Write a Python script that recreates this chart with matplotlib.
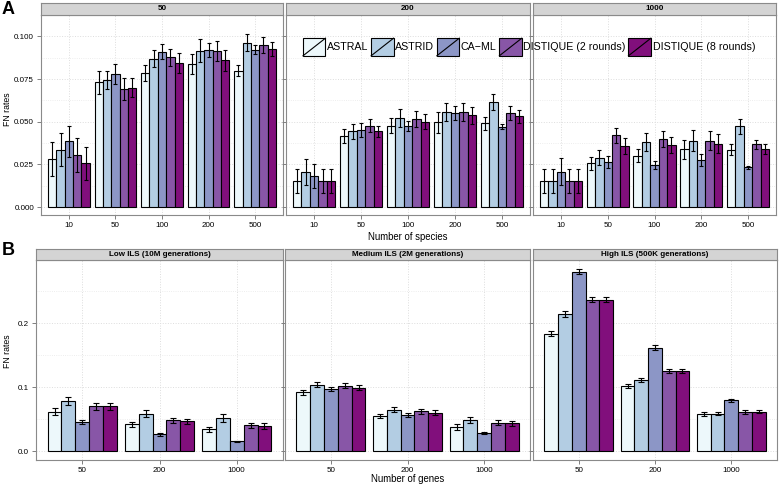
import matplotlib
matplotlib.use("Agg")
import matplotlib.pyplot as plt
import numpy as np
from matplotlib.patches import Rectangle, Patch
from matplotlib.lines import Line2D
from matplotlib.legend_handler import HandlerBase

plt.rcParams['font.family'] = ['Liberation Sans', 'DejaVu Sans']

methods = ["ASTRAL", "ASTRID", "CA\u2212ML", "DISTIQUE (2 rounds)", "DISTIQUE (8 rounds)"]
colors = ["#EDF8FB", "#B3CDE3", "#8C96C6", "#8856A7", "#810F7C"]

# Panel A: facets = number of genes, groups = number of species
a_facets = ["50", "200", "1000"]
species = ["10", "50", "100", "200", "500"]
a50_mean = [[0.028, 0.0337, 0.0385, 0.0306, 0.0256],
            [0.073, 0.0746, 0.078, 0.0693, 0.070],
            [0.0787, 0.0869, 0.0911, 0.0878, 0.0843],
            [0.0839, 0.0915, 0.0922, 0.0913, 0.0859],
            [0.080, 0.0963, 0.0922, 0.095, 0.0926]]
a50_err = [[0.010, 0.0096, 0.009, 0.0098, 0.0096],
           [0.0069, 0.0053, 0.006, 0.0063, 0.0055],
           [0.0048, 0.005, 0.0042, 0.005, 0.006],
           [0.006, 0.0067, 0.004, 0.006, 0.006],
           [0.003, 0.005, 0.0025, 0.0045, 0.004]]
a200_mean = [[0.0152, 0.0206, 0.018, 0.0152, 0.0152],
             [0.0417, 0.0444, 0.045, 0.0478, 0.0443],
             [0.0478, 0.0522, 0.0474, 0.0517, 0.050],
             [0.0496, 0.0557, 0.055, 0.0557, 0.0537],
             [0.049, 0.0613, 0.0472, 0.055, 0.0531]]
a200_err = [[0.007, 0.0075, 0.007, 0.007, 0.007],
            [0.004, 0.0045, 0.004, 0.004, 0.0035],
            [0.0045, 0.0055, 0.003, 0.0045, 0.0045],
            [0.006, 0.0055, 0.004, 0.005, 0.005],
            [0.0037, 0.0047, 0.0015, 0.004, 0.0036]]
a1000_mean = [[0.0152, 0.0152, 0.0207, 0.0152, 0.0152],
              [0.0257, 0.0289, 0.0267, 0.042, 0.0357],
              [0.0302, 0.0383, 0.0248, 0.040, 0.0363],
              [0.0339, 0.039, 0.0276, 0.039, 0.0372],
              [0.0337, 0.0474, 0.0233, 0.0367, 0.0341]]
a1000_err = [[0.007, 0.007, 0.0078, 0.007, 0.007],
             [0.0037, 0.0045, 0.0035, 0.0045, 0.0045],
             [0.0037, 0.0052, 0.0025, 0.0045, 0.0045],
             [0.0055, 0.0062, 0.0035, 0.0055, 0.0055],
             [0.003, 0.0045, 0.001, 0.0028, 0.003]]

# Panel B: facets = ILS level, groups = number of genes
b_facets = ["Low ILS (10M generations)", "Medium ILS (2M generations)", "High ILS (500K generations)"]
genes = ["50", "200", "1000"]
b_low_mean = [[0.062, 0.079, 0.0458, 0.0703, 0.0703],
              [0.042, 0.0589, 0.0266, 0.0484, 0.0469],
              [0.0344, 0.0516, 0.0156, 0.041, 0.040]]
b_low_err = [[0.005, 0.006, 0.0025, 0.005, 0.005],
             [0.004, 0.005, 0.002, 0.004, 0.004],
             [0.004, 0.006, 0.0012, 0.004, 0.005]]
b_med_mean = [[0.0922, 0.104, 0.098, 0.1026, 0.0995],
              [0.0552, 0.065, 0.0563, 0.0625, 0.0604],
              [0.038, 0.049, 0.0286, 0.0448, 0.0438]]
b_med_err = [[0.004, 0.004, 0.003, 0.004, 0.004],
             [0.003, 0.004, 0.003, 0.004, 0.004],
             [0.004, 0.004, 0.001, 0.004, 0.004]]
b_high_mean = [[0.1839, 0.2146, 0.2807, 0.237, 0.237],
               [0.102, 0.111, 0.162, 0.126, 0.125],
               [0.0583, 0.0589, 0.0797, 0.0615, 0.062]]
b_high_err = [[0.004, 0.004, 0.004, 0.004, 0.004],
              [0.003, 0.003, 0.004, 0.003, 0.003],
              [0.003, 0.002, 0.002, 0.003, 0.002]]

W, H = 779, 486
fig = plt.figure(figsize=(W / 100, H / 100), dpi=100)


def px_axes(x0, y0, x1, y1):
    return fig.add_axes([x0 / W, 1 - y1 / H, (x1 - x0) / W, (y1 - y0) / H])


def draw_facet(x0, x1, ytop, ybot, strip_h, title, groups, means, errs,
               ylim, yticks, yticklabels, show_y, capsize):
    ax = px_axes(x0, ytop, x1, ybot)
    sax = px_axes(x0, ytop - strip_h, x1, ytop)
    sax.set_facecolor("#D4D4D4")
    sax.set_xticks([]); sax.set_yticks([])
    for s in sax.spines.values():
        s.set_color("#8a8a8a"); s.set_linewidth(0.8)
    sax.text(0.5, 0.5, title, ha="center", va="center", fontsize=5.8,
             fontweight="bold", transform=sax.transAxes)

    means = np.array(means); errs = np.array(errs)
    ng, nm = means.shape
    xs = np.arange(1, ng + 1)
    bw = 0.9 / nm
    for j in range(nm):
        pos = xs - 0.45 + bw * (j + 0.5)
        ax.bar(pos, means[:, j], width=bw, color=colors[j], edgecolor="black",
               linewidth=0.8, zorder=3)
        ax.errorbar(pos, means[:, j], yerr=errs[:, j], fmt="none",
                    ecolor="black", elinewidth=0.8, capsize=capsize,
                    capthick=0.8, zorder=4)
    ax.set_xlim(0.4, ng + 0.6)
    ax.set_ylim(*ylim)
    ax.set_xticks(xs)
    ax.set_xticklabels(groups, fontsize=5.8)
    ax.set_yticks(yticks)
    ax.set_yticks([(yticks[i] + yticks[i + 1]) / 2 for i in range(len(yticks) - 1)] +
                  [yticks[-1] + (yticks[1] - yticks[0]) / 2], minor=True)
    if show_y:
        ax.set_yticklabels(yticklabels, fontsize=5.8)
    else:
        ax.set_yticklabels([])
    ax.tick_params(axis="both", which="major", length=3, color="#7f7f7f", width=0.7, pad=2)
    ax.tick_params(axis="y", which="minor", length=0)
    ax.grid(True, which="major", color="#DDDDDD", linestyle=":", linewidth=0.7, zorder=0)
    ax.grid(True, which="minor", axis="y", color="#E8E8E8", linestyle=":", linewidth=0.6, zorder=0)
    for s in ax.spines.values():
        s.set_color("#8a8a8a"); s.set_linewidth(0.8)
    return ax


# Panel A
a_means = [a50_mean, a200_mean, a1000_mean]
a_errs = [a50_err, a200_err, a1000_err]
a_x = [(41, 283), (286, 530), (533, 776)]
a_ticks = [0.0, 0.025, 0.05, 0.075, 0.1]
a_labels = ["0.000", "0.025", "0.050", "0.075", "0.100"]
for k in range(3):
    draw_facet(a_x[k][0], a_x[k][1], 15, 215, 12, a_facets[k], species,
               a_means[k], a_errs[k], (-0.0046, 0.1065), a_ticks, a_labels,
               k == 0, 1.6)

# Panel B
b_means = [b_low_mean, b_med_mean, b_high_mean]
b_errs = [b_low_err, b_med_err, b_high_err]
b_x = [(36, 283), (285, 530), (533, 777)]
b_ticks = [0.0, 0.1, 0.2]
b_labels = ["0.0", "0.1", "0.2"]
for k in range(3):
    draw_facet(b_x[k][0], b_x[k][1], 260, 460, 11, b_facets[k], genes,
               b_means[k], b_errs[k], (-0.0135, 0.299), b_ticks, b_labels,
               k == 0, 2.4)

fig.text(2 / W, 1 - 10 / H, "A", fontsize=13, fontweight="bold", va="center", ha="left")
fig.text(2 / W, 1 - 250 / H, "B", fontsize=13, fontweight="bold", va="center", ha="left")
fig.text(8 / W, 1 - 109 / H, "FN rates", fontsize=6.3, rotation=90, va="center", ha="center")
fig.text(8 / W, 1 - 351 / H, "FN rates", fontsize=6.3, rotation=90, va="center", ha="center")
fig.text(408 / W, 1 - 237 / H, "Number of species", fontsize=6.9, va="center", ha="center")
fig.text(408 / W, 1 - 479 / H, "Number of genes", fontsize=6.9, va="center", ha="center")


class SlashHandler(HandlerBase):
    def create_artists(self, legend, orig_handle, xdescent, ydescent, width,
                       height, fontsize, trans):
        h = 17 / 100 * 72 * 1.0  # approx key height in points
        h = height * 1.25
        y0 = -ydescent + (height - h) / 2
        r = Rectangle((-xdescent, y0), width, h,
                      facecolor=orig_handle.get_facecolor(), edgecolor="black",
                      linewidth=0.8, transform=trans)
        l = Line2D([-xdescent, -xdescent + width], [y0, y0 + h],
                   color="black", linewidth=0.8, transform=trans)
        return [r, l]


handles = [Patch(facecolor=c) for c in colors]
fig.legend(handles, methods, loc="center", bbox_to_anchor=(529 / W, 1 - 47 / H),
           ncol=5, frameon=False, fontsize=7.7, handlelength=2.1, handleheight=1.65,
           handletextpad=0.15, columnspacing=0.25,
           handler_map={Patch: SlashHandler()})

fig.savefig("out.png", dpi=100)
